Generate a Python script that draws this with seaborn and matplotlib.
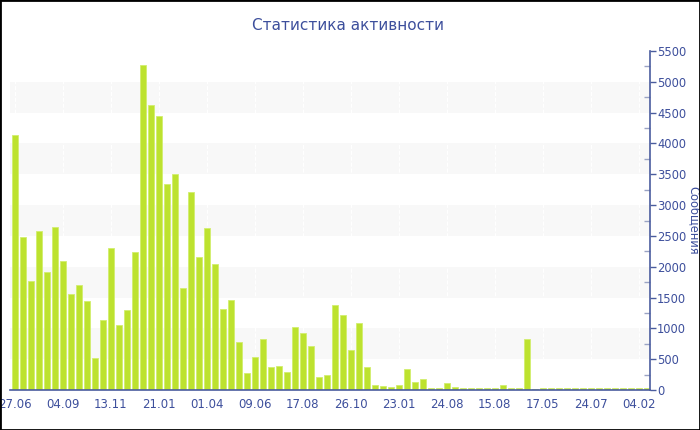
import matplotlib
matplotlib.use("Agg")
import matplotlib.pyplot as plt
from matplotlib.ticker import MultipleLocator
import seaborn as sns
import pandas as pd

# messages per period (80 periods)
messages = [
    4130, 2480, 1770, 2580, 1910, 2640, 2090, 1560, 1700, 1450,
    525, 1140, 2300, 1050, 1300, 2240, 5270, 4620, 4440, 3350,
    3510, 1660, 3220, 2160, 2630, 2050, 1320, 1465, 785, 270,
    530, 830, 370, 390, 290, 1030, 925, 715, 210, 245,
    1375, 1215, 650, 1080, 380, 80, 70, 50, 75, 335,
    130, 180, 35, 35, 115, 55, 30, 35, 30, 30,
    25, 75, 30, 30, 830, 20, 30, 25, 25, 30,
    25, 25, 30, 35, 35, 25, 25, 25, 35, 30,
]
tick_labels = ["27.06", "04.09", "13.11", "21.01", "01.04", "09.06", "17.08",
               "26.10", "23.01", "24.08", "15.08", "17.05", "24.07", "04.02"]

df = pd.DataFrame({"period": range(len(messages)), "messages": messages})

axis_color = "#4a5c9e"
text_color = "#3d4f9c"
bar_color = "#bde22f"

sns.set_style("white")
plt.rcParams["font.family"] = ["DejaVu Sans"]

fig = plt.figure(figsize=(7, 4.3), dpi=100)
ax = fig.add_axes([10 / 700, 40 / 430, 640 / 700, 339 / 430])

# alternating horizontal bands
for lo in range(500, 5000, 1000):
    ax.axhspan(lo, lo + 500, color="#f8f8f8", zorder=0, lw=0)

sns.barplot(data=df, x="period", y="messages", color=bar_color, width=0.72,
            saturation=1, edgecolor="#d2ee6e", linewidth=0.6, ax=ax, zorder=2)

ax.set_xlim(-0.6, len(messages) - 0.6)
ax.set_ylim(0, 5500)

ax.set_xticks(range(0, len(messages), 6))
ax.set_xticklabels(tick_labels)
ax.grid(axis="x", color="white", linestyle="--", linewidth=0.8, zorder=1)
ax.set_axisbelow(True)

ax.yaxis.tick_right()
ax.yaxis.set_label_position("right")
ax.yaxis.set_major_locator(MultipleLocator(500))
ax.yaxis.set_minor_locator(MultipleLocator(250))
ax.tick_params(axis="y", which="major", direction="out", length=4, width=1,
               color=axis_color, labelcolor=text_color, labelsize=8.3, pad=1)
ax.tick_params(axis="y", which="minor", direction="in", length=4, width=1,
               color="#9aa3c4")
ax.tick_params(axis="x", direction="out", length=4, width=1,
               color=axis_color, labelcolor=text_color, labelsize=8.5, pad=2)

for side in ["top", "left"]:
    ax.spines[side].set_visible(False)
for side in ["right", "bottom"]:
    ax.spines[side].set_color(axis_color)
    ax.spines[side].set_linewidth(1.2)

ax.set_xlabel("")
ax.set_ylabel("Сообщения", rotation=270, color=text_color, fontsize=8.3)
ax.yaxis.set_label_coords(1.079, 0.5)

fig.text(348 / 700, 1 - 25 / 430, "Статистика активности", ha="center",
         va="center", color=text_color, fontsize=11)

fig.patches.append(plt.Rectangle((0, 0), 1, 1, transform=fig.transFigure,
                                 fill=False, edgecolor="black", linewidth=2))

fig.savefig("out.png", dpi=100)
